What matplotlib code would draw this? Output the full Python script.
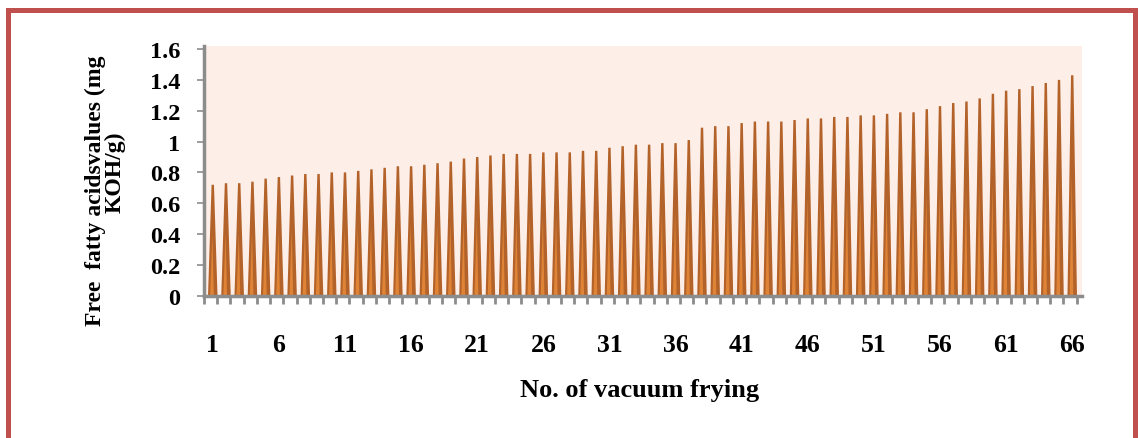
import matplotlib
matplotlib.use("Agg")
import matplotlib.pyplot as plt
from matplotlib.patches import Rectangle

plt.rcParams['font.family'] = ['Liberation Serif', 'DejaVu Serif']
plt.rcParams['font.weight'] = 'bold'

# free fatty acid value after each vacuum frying run
runs = list(range(1, 67))
ffa = [0.72, 0.73, 0.73, 0.74, 0.76, 0.77, 0.78, 0.79, 0.79, 0.80,
       0.80, 0.81, 0.82, 0.83, 0.84, 0.84, 0.85, 0.86, 0.87, 0.89,
       0.90, 0.91, 0.92, 0.92, 0.92, 0.93, 0.93, 0.93, 0.94, 0.94,
       0.96, 0.97, 0.98, 0.98, 0.99, 0.99, 1.01, 1.09, 1.10, 1.10,
       1.12, 1.13, 1.13, 1.13, 1.14, 1.15, 1.15, 1.16, 1.16, 1.17,
       1.17, 1.18, 1.19, 1.19, 1.21, 1.23, 1.25, 1.26, 1.28, 1.31,
       1.33, 1.34, 1.36, 1.38, 1.40, 1.43]
yticks = [0, 0.2, 0.4, 0.6, 0.8, 1, 1.2, 1.4, 1.6]
ytick_labels = ['0', '0.2', '0.4', '0.6', '0.8', '1', '1.2', '1.4', '1.6']
xtick_pos = runs[::5]

fig = plt.figure(figsize=(11.38, 4.39), dpi=100)
ax = fig.add_axes([0.1793, 0.324, 0.7715, 0.569])
ax.set_facecolor('#FDEEE8')

# cone-shaped columns with a lighter streak near the base
w, wt = 0.36, 0.09
for x, v in zip(runs, ffa):
    ax.fill([x - w, x - wt, x + wt, x + w], [0, v, v, 0],
            color='#B3632A', lw=0, zorder=3)
    ax.fill([x - 0.2, x - 0.03, x + 0.08], [0, v * 0.55, 0],
            color='#F2923D', lw=0, alpha=0.7, zorder=4)

ax.set_xlim(0.34, 66.74)
ax.set_ylim(0, 1.62)

ax.set_yticks(yticks)
ax.set_yticklabels(ytick_labels)
ax.set_xticks(xtick_pos)
ax.set_xticklabels([str(x) for x in xtick_pos])
ax.set_xticks([x + 0.34 for x in range(0, 67)], minor=True)

ax.tick_params(axis='y', length=5, width=1.2, color='#8C8C8C', pad=12,
               labelsize=17.5)
ax.tick_params(axis='x', which='major', length=0, pad=27, labelsize=18.5)
ax.tick_params(axis='x', which='minor', length=6, width=2, color='#8C8C8C')

for side in ['top', 'right']:
    ax.spines[side].set_visible(False)
for side in ['left', 'bottom']:
    ax.spines[side].set_color('#8C8C8C')
    ax.spines[side].set_linewidth(2.5)
    ax.spines[side].set_zorder(5)

fig.text(0.562, 0.11, 'No. of vacuum frying', ha='center', va='center',
         fontsize=19, fontweight='bold')
fig.text(0.0835, 0.565, 'Free  fatty acidsvalues (mg', ha='center',
         va='center', rotation=90, fontsize=17, fontweight='bold')
fig.text(0.1015, 0.608, 'KOH/g)', ha='center', va='center', rotation=90,
         fontsize=17, fontweight='bold')

# outer frame
fig.patches.append(Rectangle((8 / 1138, -0.2), 1127 / 1138, 1.2 - 11 / 439,
                             transform=fig.transFigure, fill=False,
                             edgecolor='#C0504D', linewidth=3.6))

fig.savefig('out.png', dpi=100)
